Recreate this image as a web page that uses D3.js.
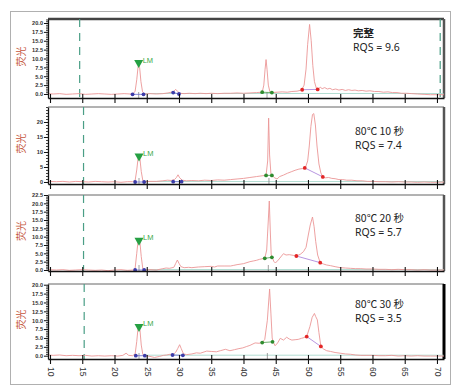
<!DOCTYPE html>
<html><head><meta charset="utf-8">
<script src="https://cdn.jsdelivr.net/npm/d3@7"></script>
<style>body{margin:0;background:#fff}svg{display:block}</style>
</head><body><svg id="c" width="459" height="392"></svg>
<script>
// ---------- DATA ----------
const xTickValues = [10,15,20,25,30,35,40,45,50,55,60,65,70];
const panelTitles = ["完整","80℃ 10 秒","80℃ 20 秒","80℃ 30 秒"];
const rqsValues = ["9.6","7.4","5.7","3.5"];
const yTickValues = [
  [0,2.5,5,7.5,10,12.5,15,17.5,20],
  [0,5,10,15,20],
  [0,2.5,5,7.5,10,12.5,15,17.5,20,22.5],
  [0,2.5,5,7.5,10,12.5,15,17.5,20]
];
const yLabel = "荧光";

const trace1 = [[9.7,0.1],[10.5,0.0],[11.5,0.1],[12.5,-0.1],[13.5,0.0],[14.5,0.1],[15.5,-0.1],[16.5,0.0],[17.5,0.1],[18.5,0.0],[19.5,-0.1],[20.5,0.0],[21.5,0.1],[22.4,0.0],[22.9,0.1],[23.2,0.8],[23.45,4],[23.65,7.6],[23.75,8.1],[23.9,7.4],[24.1,3.5],[24.35,0.6],[24.7,0.0],[25.5,0.1],[26.5,0.0],[27.5,0.1],[28.3,0.3],[28.8,0.5],[29.1,0.6],[29.5,1.3],[29.8,0.7],[30.1,0.2],[30.8,0.1],[31.6,0.2],[32.5,0.1],[33.3,0.2],[34.2,0.1],[35,0.2],[36,0.1],[37,0.2],[38,0.2],[39,0.3],[40,0.2],[41,0.3],[42,0.4],[42.9,0.5],[43.15,2.5],[43.35,7],[43.5,9.7],[43.65,7],[43.85,2.5],[44.1,0.6],[44.5,0.4],[45.2,0.5],[46,0.6],[46.8,0.5],[47.5,0.7],[48.3,0.8],[49.0,1.1],[49.4,2.5],[49.7,7],[49.95,14],[50.25,19.6],[50.5,15],[50.75,8],[51.0,3.5],[51.3,1.6],[51.6,1.4],[51.9,1.9],[52.2,1.5],[52.6,1.8],[53.0,1.4],[53.4,1.6],[53.8,1.2],[54.3,1.4],[54.8,1.1],[55.3,1.3],[55.8,1.0],[56.3,1.2],[56.8,1.0],[57.3,1.1],[57.8,0.9],[58.4,1.0],[59,0.8],[59.6,0.9],[60.3,0.7],[61,0.7],[61.7,0.5],[62.4,0.6],[63.1,0.4],[63.8,0.4],[64.5,0.2],[65.3,0.2],[66.1,0.1],[67,0.0],[68,-0.1],[69,-0.2],[70,-0.2],[71.1,-0.2]];

const trace2 = [[9.7,0.2],[11,0.1],[12,0.2],[13,0.0],[14,0.2],[15,0.1],[16,0.0],[17,0.2],[18,0.1],[19,0.0],[20,0.1],[21,-0.1],[22,0.1],[22.8,0.1],[23.2,0.5],[23.45,4],[23.65,7.8],[23.8,8.3],[23.95,7.6],[24.15,3.5],[24.4,0.4],[24.8,0.1],[25.5,0.2],[26.5,0.2],[27.5,0.4],[28.2,0.6],[28.8,0.5],[29.3,0.8],[29.6,1.5],[29.85,2.4],[30.1,1.4],[30.5,0.6],[31.2,0.4],[32,0.5],[33,0.4],[34,0.6],[35,0.5],[36,0.7],[37,0.6],[38,0.8],[39,1.0],[40,1.2],[41,1.5],[42,1.8],[43,2.1],[43.5,2.2],[43.75,7],[43.9,21.3],[44.05,9],[44.25,2.8],[44.45,2.2],[44.8,1.4],[45.2,1.0],[45.6,1.8],[46.2,2.3],[46.8,2.9],[47.4,3.4],[48.0,3.9],[48.6,4.3],[49.2,4.5],[49.6,4.8],[49.95,7],[50.2,12],[50.45,18.5],[50.7,22.5],[50.9,22.8],[51.15,19],[51.4,12],[51.7,6],[52.0,3.0],[52.3,1.7],[52.7,1.4],[53.2,1.5],[53.7,1.2],[54.2,1.1],[54.8,0.8],[55.4,0.8],[56,0.6],[56.8,0.6],[57.6,0.4],[58.4,0.4],[59.2,0.2],[60,0.2],[61,0.1],[62,0.1],[63,0.0],[64,0.1],[65,0.0],[66,0.0],[67,-0.1],[68,0.0],[69,-0.1],[70,-0.1],[71.1,0.0]];

const trace3 = [[9.7,0.1],[11,0.0],[12,0.1],[13,-0.1],[14,0.0],[15,0.1],[16,0.0],[17,-0.1],[18,0.0],[19,-0.2],[20,0.0],[21,0.1],[22,-0.1],[22.9,0.0],[23.2,0.5],[23.45,5],[23.65,8.6],[23.8,9.0],[23.95,8.2],[24.15,4],[24.4,0.3],[24.8,0.0],[25.5,0.1],[26.5,0.0],[27.5,0.4],[28,0.6],[28.5,0.5],[29.2,0.8],[29.5,2.0],[29.75,3.0],[30.0,2.0],[30.3,1.0],[30.8,0.7],[31.5,0.8],[32,0.7],[33,0.9],[34,1.0],[35,1.1],[35.5,0.9],[36,1.2],[37,1.2],[38,1.2],[38.5,1.4],[39,1.6],[40,1.9],[41,2.5],[41.5,2.7],[42,2.9],[42.5,3.2],[43,3.4],[43.3,3.5],[43.6,6],[43.85,15],[44.0,20.7],[44.15,12],[44.3,4.5],[44.45,3.8],[44.7,2.6],[44.95,2.1],[45.4,3.0],[45.9,4.2],[46.2,4.9],[46.6,4.5],[47.1,4.6],[47.7,4.4],[48.2,4.2],[48.8,4.7],[49.3,5.5],[49.7,6.8],[50.05,10.5],[50.35,13.5],[50.7,15.9],[50.95,13],[51.2,8.5],[51.5,4.5],[51.9,2.2],[52.4,1.8],[52.9,1.5],[53.5,1.3],[54.2,1.0],[55,0.7],[55.8,0.6],[56.6,0.5],[57.4,0.4],[58.2,0.4],[59,0.3],[60,0.3],[61,0.2],[62,0.2],[63,0.1],[64,0.2],[65,0.1],[66,0.1],[67,0.0],[68,0.1],[69,0.0],[70,0.0],[71.1,0.0]];

const trace4 = [[9.7,0.2],[10.5,0.1],[11.5,0.2],[12.5,0.0],[13.5,0.1],[14.5,0.0],[15.5,0.1],[16.5,-0.1],[17.5,0.0],[18.5,-0.1],[19.5,0.0],[20.5,-0.1],[21.3,0.1],[21.8,0.7],[22.2,0.1],[22.8,0.0],[23.2,0.5],[23.45,4],[23.65,7.8],[23.8,8.2],[23.95,7.2],[24.15,3],[24.4,0.3],[24.8,0.0],[25.5,-0.2],[26.2,-0.5],[27,-0.2],[27.6,0.1],[28.1,0.2],[28.6,0.4],[29.1,0.3],[29.5,1.0],[29.8,2.0],[30.1,3.1],[30.35,2.0],[30.7,0.5],[31.2,0.3],[32,0.5],[32.7,0.8],[33.3,0.7],[34.3,1.3],[35,1.2],[35.8,1.1],[36.4,1.4],[37.2,1.8],[37.9,1.4],[38.6,1.7],[39.3,2.0],[39.9,2.2],[40.5,2.6],[41,2.9],[41.8,3.6],[42.4,3.5],[42.9,3.7],[43.3,4.6],[43.7,10],[44.05,18.8],[44.25,12],[44.45,5],[44.6,3.9],[44.9,2.8],[45.3,3.6],[45.7,4.9],[46.2,4.4],[46.7,5.2],[47.1,4.7],[47.5,4.4],[48.0,4.5],[48.5,4.6],[49.0,4.9],[49.4,5.1],[49.8,5.4],[50.3,8.2],[50.65,10.8],[51.0,11.9],[51.2,11.0],[51.45,10.1],[51.7,6.5],[52.0,2.6],[52.4,1.9],[52.9,1.4],[53.5,1.2],[54.2,0.9],[55,0.7],[55.8,0.5],[56.6,0.4],[57.4,0.2],[58.2,0.1],[59,0.1],[60,0.1],[61,0.0],[62,0.0],[63,0.1],[64,-0.1],[65,0.0],[66,-0.1],[67,0.0],[68,-0.1],[69,-0.1],[70,-0.1],[71.1,-0.1]];

const traces = [trace1, trace2, trace3, trace4];

const blueDots = [
  [[22.8,-0.1],[24.5,-0.1],[29.1,0.4],[30.0,0.0]],
  [[23.2,0.0],[24.6,0.0],[29.1,0.1],[30.4,0.1]],
  [[23.2,0.0],[24.6,0.0]],
  [[23.3,0.0],[24.7,0.0],[29.0,0.2],[30.6,0.1]]
];
const greenDots = [
  [[42.9,0.5],[44.4,0.4]],
  [[43.5,2.2],[44.4,2.2]],
  [[43.3,3.5],[44.4,3.8]],
  [[42.9,3.7],[44.5,3.9]]
];
const redDots = [
  [[49.1,1.2],[51.5,1.3]],
  [[49.5,4.7],[52.3,1.7]],
  [[48.2,4.2],[51.9,2.2]],
  [[49.8,5.4],[52.0,2.6]]
];
const lmTime = [23.75, 23.8, 23.8, 23.8];
const lmTip = [7.3, 6.8, 7.3, 6.7];
const lowerMarker = [14.6, 15.2, 15.2, 15.3];
const upperMarker = [70.5, null, null, null];

// ---------- LAYOUT ----------
const L = 48, R = 444;
const panels = [
  {top:19, bottom:98, y0:-1.13, y1:21.13, fmt:".1f", minor:0.5, titleY:37},
  {top:107, bottom:184, y0:-0.67, y1:25, fmt:"d", minor:1, titleY:135},
  {top:195, bottom:271, y0:-0.3, y1:22.5, fmt:".1f", minor:0.5, titleY:222},
  {top:284, bottom:359, y0:-0.93, y1:20.2, fmt:".1f", minor:0.5, titleY:308}
];

const svg = d3.select("#c");
svg.append("rect").attr("x",10.5).attr("y",11.5).attr("width",440).attr("height",373)
  .attr("fill","none").attr("stroke","#b0b0b0").attr("stroke-width",1);

const x = d3.scaleLinear().domain([9.69, 71.09]).range([L, R]);
const defs = svg.append("defs");

panels.forEach((p, i) => {
  const y = d3.scaleLinear().domain([p.y0, p.y1]).range([p.bottom, p.top]);
  const g = svg.append("g");
  defs.append("clipPath").attr("id","clip"+i).append("rect")
    .attr("x",L).attr("y",p.top).attr("width",R-L).attr("height",p.bottom-p.top);

  // frame
  g.append("line").attr("x1",L).attr("x2",R).attr("y1",p.top).attr("y2",p.top)
    .attr("stroke", i===0 ? "#444" : "#666").attr("stroke-width", i===0 ? 2.5 : 1);
  g.append("line").attr("x1",R).attr("x2",R).attr("y1",p.top).attr("y2",p.bottom)
    .attr("stroke", i===3 ? "#000" : "#555").attr("stroke-width", i===3 ? 3 : 2.5);

  const pg = g.append("g").attr("clip-path","url(#clip"+i+")");

  // dashed markers
  [lowerMarker[i], upperMarker[i]].forEach(m => {
    if (m == null) return;
    pg.append("line").attr("x1",x(m)).attr("x2",x(m)).attr("y1",p.top).attr("y2",p.bottom)
      .attr("stroke","#4a9e86").attr("stroke-width",1.2).attr("stroke-dasharray","8,6");
  });

  // teal baseline
  pg.append("line").attr("x1",x(24.7)).attr("x2",x(71)).attr("y1",y(0)-0.5).attr("y2",y(0)-0.5)
    .attr("stroke","#b3ddd2").attr("stroke-width",1);

  // trace
  const line = d3.line().x(d=>x(d[0])).y(d=>y(d[1]));
  pg.append("path").datum(traces[i]).attr("d",line)
    .attr("fill","none").attr("stroke","#eb9696").attr("stroke-width",0.9);

  // small peak marks
  [lmTime[i], greenDots[i][0][0]+ (greenDots[i][1][0]-greenDots[i][0][0])/2].forEach(t => {
    pg.append("line").attr("x1",x(t)).attr("x2",x(t)).attr("y1",p.bottom).attr("y2",p.bottom-6)
      .attr("stroke","#888").attr("stroke-width",0.8);
  });

  // connectors and dots
  const dotSets = [[blueDots[i],"#3b3ba8","#6a6ad0"],[greenDots[i],"#2e8b2e","#4aa04a"],[redDots[i],"#e32626","#a57ad8"]];
  dotSets.forEach(([pts, col, lc]) => {
    for (let k = 0; k + 1 < pts.length; k += 2) {
      pg.append("line").attr("x1",x(pts[k][0])).attr("y1",y(pts[k][1]))
        .attr("x2",x(pts[k+1][0])).attr("y2",y(pts[k+1][1]))
        .attr("stroke",lc).attr("stroke-width",0.8);
    }
    pg.selectAll(null).data(pts).enter().append("circle")
      .attr("cx",d=>x(d[0])).attr("cy",d=>y(d[1])).attr("r",1.9).attr("fill",col);
  });

  // LM marker
  const tx = x(lmTime[i]), ty = y(lmTip[i]);
  g.append("path").attr("d",`M${tx-4.5},${ty-8} L${tx+4.5},${ty-8} L${tx},${ty} Z`).attr("fill","#25a043");
  g.append("text").attr("x",tx+4).attr("y",ty-5.5).text("LM")
    .attr("font-family","Liberation Sans, Arial, sans-serif").attr("font-size",7.5).attr("fill","#3aa848");

  // y axis
  const ya = d3.axisLeft(y).tickValues(yTickValues[i]).tickSize(4).tickSizeOuter(0)
    .tickFormat(d3.format(p.fmt));
  const yg = g.append("g").attr("transform",`translate(${L},0)`).call(ya);
  yg.select(".domain").attr("stroke","#111").attr("stroke-width",1.3);
  yg.selectAll(".tick line").attr("stroke","#111");
  yg.selectAll("text").attr("font-family","Liberation Sans, Arial, sans-serif")
    .attr("font-size",5.6).attr("font-weight","bold").attr("fill","#333").attr("x",-5);
  const minorVals = d3.range(0, p.y1 + 0.001, p.minor).filter(v => !yTickValues[i].some(t => Math.abs(t - v) < 1e-6));
  const ym = d3.axisLeft(y).tickValues(minorVals).tickSize(2).tickSizeOuter(0).tickFormat("");
  const ymg = g.append("g").attr("transform",`translate(${L},0)`).call(ym);
  ymg.select(".domain").remove();
  ymg.selectAll(".tick line").attr("stroke","#111").attr("stroke-width",0.8);

  // x axis
  const xa = d3.axisBottom(x).tickValues(xTickValues).tickSize(5).tickSizeOuter(0)
    .tickFormat(i === 3 ? d3.format("d") : "");
  const xg = g.append("g").attr("transform",`translate(0,${p.bottom})`).call(xa);
  xg.select(".domain").attr("stroke","#111").attr("stroke-width",1.6);
  xg.selectAll(".tick line").attr("y1",-4).attr("y2",5).attr("stroke","#111").attr("stroke-width",1.1);
  if (i === 3) {
    xg.selectAll("text").attr("transform","rotate(90)").attr("text-anchor","start")
      .attr("x",8).attr("y",0).attr("dy","0.32em").attr("dx",0)
      .attr("font-family","Liberation Sans, Arial, sans-serif").attr("font-size",8.5).attr("fill","#333");
  }

  // y label
  g.append("text").attr("transform",`translate(25,${(p.top+p.bottom)/2 - 2}) rotate(-90)`)
    .attr("text-anchor","middle").text(yLabel)
    .attr("font-family","Noto Sans CJK SC, sans-serif").attr("font-size",10).attr("fill","#c5563c");

  // annotation
  g.append("text").attr("x",i===0?353:355).attr("y",p.titleY).text(panelTitles[i])
    .attr("font-family","Noto Sans CJK SC, sans-serif").attr("font-size",10.5)
    .attr("font-weight", i===0 ? "bold" : "normal").attr("fill","#222");
  g.append("text").attr("x",i===0?353:355).attr("y",p.titleY+13.5).text("RQS = " + rqsValues[i])
    .attr("font-family","Noto Sans, sans-serif").attr("font-size",10.5).attr("fill","#222");
});
</script>
</body></html>
